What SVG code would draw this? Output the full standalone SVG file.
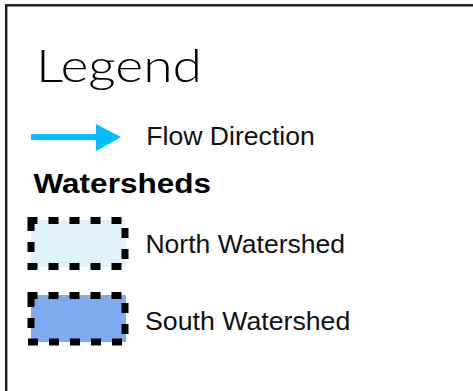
<svg xmlns="http://www.w3.org/2000/svg" width="473" height="391" viewBox="0 0 473 391">
  <style>
    .lbl { font-family: "Liberation Sans", Arial, sans-serif; font-size: 25.5px; fill: #111; }
    .hd { font-family: "Liberation Sans", Arial, sans-serif; font-size: 27px; font-weight: bold; fill: #000; }
    .title { font-family: Lato, "DejaVu Sans", sans-serif; font-size: 46px; font-weight: 300; fill: #000; }
    .ws { stroke: #000; stroke-width: 7; stroke-dasharray: 3 18; stroke-linecap: square; }
  </style>
  <rect x="6.2" y="5.3" width="500" height="420" fill="#fff" stroke="#1a1a1a" stroke-width="2.4"/>
  <g id="title">
    <text class="title" x="36" y="81.7" textLength="166" lengthAdjust="spacingAndGlyphs">Legend</text>
  </g>
  <g id="connectors">
    <line x1="31" y1="137" x2="97" y2="137" stroke="#00BFFF" stroke-width="6"/>
    <polygon points="96,124 121,137 96,151" fill="#00BFFF"/>
  </g>
  <g id="flow-label">
    <text class="lbl" x="146.3" y="145" textLength="168.5" lengthAdjust="spacingAndGlyphs">Flow Direction</text>
  </g>
  <g id="heading">
    <text class="hd" x="33.5" y="193.3" textLength="177.5" lengthAdjust="spacingAndGlyphs">Watersheds</text>
  </g>
  <g id="north">
    <rect x="31" y="220" width="95" height="47" fill="#DFF3FE"/>
    <rect class="ws" x="31" y="220.5" width="94" height="46" fill="none"/>
    <text class="lbl" x="145.4" y="253" textLength="199.7" lengthAdjust="spacingAndGlyphs">North Watershed</text>
  </g>
  <g id="south">
    <rect x="31" y="295" width="95" height="47" fill="#7EAAF2"/>
    <rect class="ws" x="31" y="295.5" width="94" height="46.5" fill="none"/>
    <text class="lbl" x="145" y="330" textLength="205.3" lengthAdjust="spacingAndGlyphs">South Watershed</text>
  </g>
</svg>
